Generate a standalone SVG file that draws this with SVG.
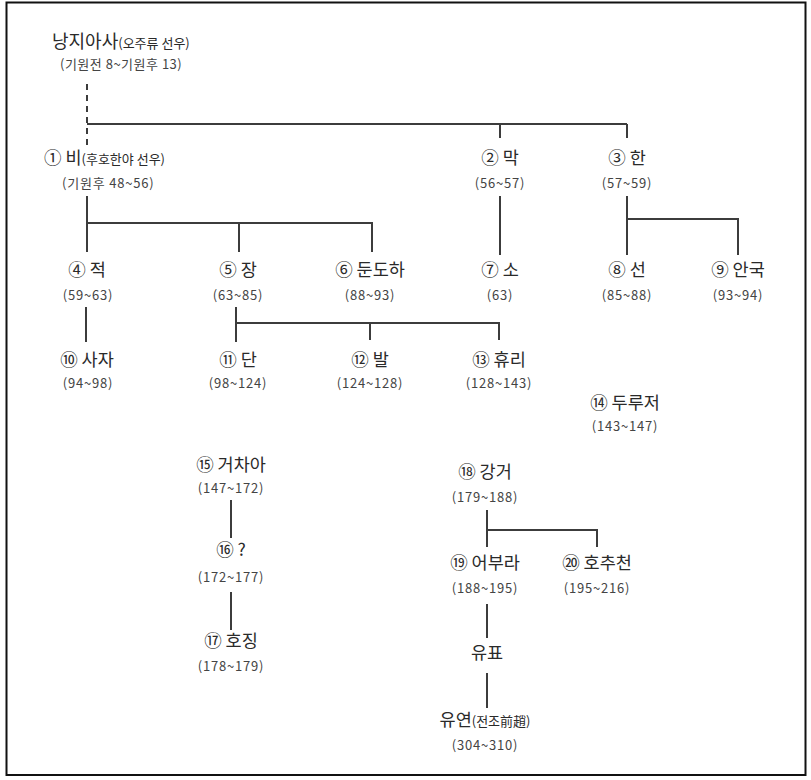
<svg xmlns="http://www.w3.org/2000/svg" width="811" height="780" viewBox="0 0 811 780">
<style>
text{font-family:"Noto Sans CJK KR","Noto Sans",sans-serif;fill:#2a2a2a}
.nm{font-size:17.5px;text-anchor:middle}
.dt{font-size:13px;text-anchor:middle;fill:#444;letter-spacing:0.8px}
.sm{font-size:13px}
.ln{fill:none;stroke:#3c3c3c;stroke-width:2}
</style>
<rect x="0" y="0" width="811" height="780" fill="#fff"/>
<rect x="6.5" y="2.5" width="799" height="772.5" fill="none" stroke="#111" stroke-width="2"/>
<g id="connectors" class="ln">
<path d="M87 84V146" stroke-dasharray="6 5"/>
<path d="M87 124H627M500 124V138M627 124V138"/>
<path d="M87 196V252M87 223H372V252M239 223V252"/>
<path d="M500 196V255"/>
<path d="M627 196V255M627 219H738V255"/>
<path d="M86 307V342"/>
<path d="M236 307V342M236 323H499V340M370 323V340"/>
<path d="M231 500V538M231 592V630"/>
<path d="M487 510V547M487 530H597V547"/>
<path d="M487 604V638M487 673V708"/>
</g>
<g id="n0"><text x="52" y="48" style="font-size:18px">낭지아사<tspan class="sm">(오주류 선우)</tspan></text><text x="60" y="69" style="font-size:13px;fill:#444;letter-spacing:0.5px">(기원전 8~기원후 13)</text></g>
<g id="n1"><text x="44" y="164" style="font-size:17.5px">① 비<tspan class="sm">(후호한야 선우)</tspan></text><text x="62" y="188" style="font-size:13px;fill:#444;letter-spacing:0.8px">(기원후 48~56)</text></g>
<g id="n2"><text class="nm" x="500" y="164">② 막</text><text class="dt" x="500" y="188">(56~57)</text></g>
<g id="n3"><text class="nm" x="627" y="164">③ 한</text><text class="dt" x="627" y="188">(57~59)</text></g>
<g id="n4"><text class="nm" x="87" y="276">④ 적</text><text class="dt" x="88" y="300">(59~63)</text></g>
<g id="n5"><text class="nm" x="238" y="276">⑤ 장</text><text class="dt" x="238" y="300">(63~85)</text></g>
<g id="n6"><text class="nm" x="370" y="276">⑥ 둔도하</text><text class="dt" x="370" y="300">(88~93)</text></g>
<g id="n7"><text class="nm" x="500" y="276">⑦ 소</text><text class="dt" x="500" y="300">(63)</text></g>
<g id="n8"><text class="nm" x="627" y="276">⑧ 선</text><text class="dt" x="627" y="300">(85~88)</text></g>
<g id="n9"><text class="nm" x="738" y="276">⑨ 안국</text><text class="dt" x="738" y="300">(93~94)</text></g>
<g id="n10"><text class="nm" x="87" y="366">⑩ 사자</text><text class="dt" x="88" y="388">(94~98)</text></g>
<g id="n11"><text class="nm" x="238" y="366">⑪ 단</text><text class="dt" x="238" y="388">(98~124)</text></g>
<g id="n12"><text class="nm" x="370" y="366">⑫ 발</text><text class="dt" x="370" y="388">(124~128)</text></g>
<g id="n13"><text class="nm" x="499" y="366">⑬ 휴리</text><text class="dt" x="499" y="388">(128~143)</text></g>
<g id="n14"><text class="nm" x="625" y="409">⑭ 두루저</text><text class="dt" x="625" y="431">(143~147)</text></g>
<g id="n15"><text class="nm" x="231" y="471">⑮ 거차아</text><text class="dt" x="231" y="493">(147~172)</text></g>
<g id="n16"><text class="nm" x="231" y="556">⑯ ?</text><text class="dt" x="231" y="582">(172~177)</text></g>
<g id="n17"><text class="nm" x="231" y="647">⑰ 호징</text><text class="dt" x="231" y="671">(178~179)</text></g>
<g id="n18"><text class="nm" x="485" y="478">⑱ 강거</text><text class="dt" x="485" y="502">(179~188)</text></g>
<g id="n19"><text class="nm" x="485" y="569">⑲ 어부라</text><text class="dt" x="485" y="593">(188~195)</text></g>
<g id="n20"><text class="nm" x="597" y="569">⑳ 호추천</text><text class="dt" x="597" y="593">(195~216)</text></g>
<g id="n21"><text class="nm" x="487" y="659">유표</text></g>
<g id="n22"><text class="nm" x="485" y="726">유연<tspan class="sm">(전조前趙)</tspan></text><text class="dt" x="485" y="750">(304~310)</text></g>
</svg>
